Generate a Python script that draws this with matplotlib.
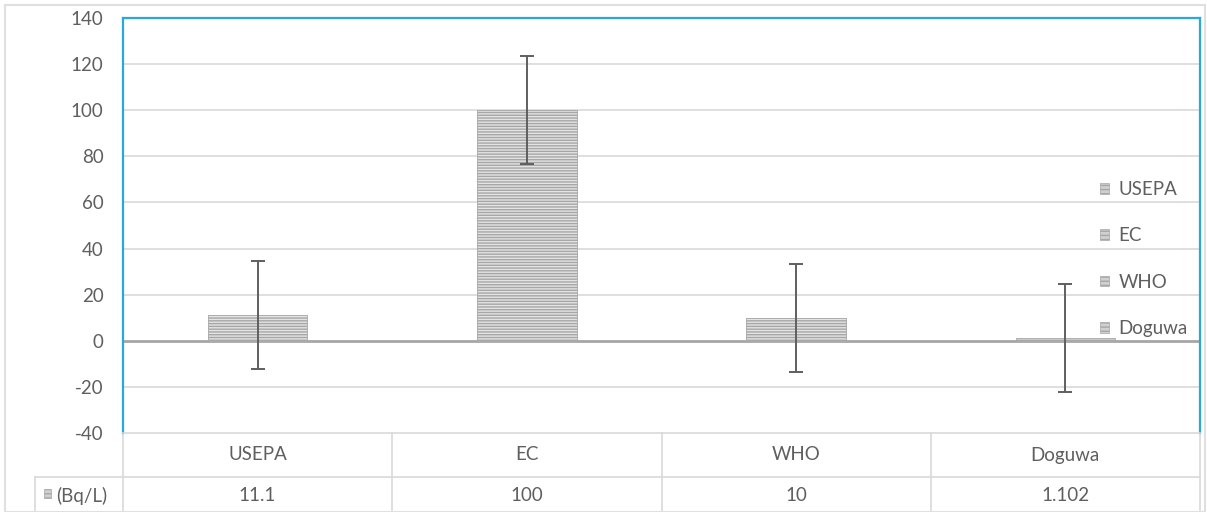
import matplotlib
matplotlib.use('agg')
import matplotlib.pyplot as plt
import matplotlib.transforms as mtransforms
from matplotlib.patches import Patch, Rectangle
import numpy as np

categories = ['USEPA', 'EC', 'WHO', 'Doguwa']
values = [11.1, 100, 10, 1.102]
value_labels = ['11.1', '100', '10', '1.102']
errors = [23.5, 23.5, 23.5, 23.5]
row_label = '(Bq/L)'
yticks = list(range(-40, 141, 20))

TXT = '#5f5f5f'
GRID = '#d9d9d9'
BLUE = '#29a8e0'

plt.rcParams['font.family'] = ['Lato', 'DejaVu Sans']
plt.rcParams['hatch.linewidth'] = 1.0

fig = plt.figure(figsize=(12.07, 5.12), dpi=100)
ax = fig.add_axes([123 / 1207, 79 / 512, 1077 / 1207, 415 / 512])

x = np.arange(len(categories))
ax.bar(x, values, width=0.37, color='#e4e4e4', edgecolor='#a6a6a6',
       hatch='------', linewidth=0.6, zorder=3)
ax.errorbar(x, values, yerr=errors, fmt='none', ecolor=TXT, elinewidth=1.4,
            capsize=5, capthick=1.4, zorder=4)

ax.set_xlim(-0.5, len(categories) - 0.5)
ax.set_ylim(-40, 140)
ax.set_yticks(yticks)
ax.set_yticklabels([str(t) for t in yticks], color=TXT, fontsize=13.5)
ax.tick_params(axis='y', length=0, pad=14)
ax.set_xticks([])
for t in yticks:
    if t == 0:
        ax.axhline(0, color='#a6a6a6', lw=2, zorder=2)
    elif t not in (-40, 140):
        ax.axhline(t, color=GRID, lw=1.2, zorder=1)

for s in ['left', 'top', 'right']:
    ax.spines[s].set_color(BLUE)
    ax.spines[s].set_linewidth(1.6)
ax.spines['bottom'].set_color(GRID)
ax.spines['bottom'].set_linewidth(1.2)

# legend on the right
handles = [Patch(facecolor='#d0d0d0', edgecolor='#a6a6a6', hatch='----', lw=0.5)
           for _ in categories]
leg = ax.legend(handles, categories, loc='upper left', bbox_to_anchor=(0.9, 0.625),
                frameon=False, handlelength=0.5, handleheight=0.5, handletextpad=0.5,
                labelspacing=1.56, fontsize=13.5, borderaxespad=0)
for t in leg.get_texts():
    t.set_color(TXT)

# data table under the axis
tr = mtransforms.blended_transform_factory(ax.transData, ax.transAxes)
row1, row2, row3 = 0.0, -44 / 415, -77 / 415
lab_left = -0.5 - 88 / 1077 * len(categories)
for i, (c, v) in enumerate(zip(categories, value_labels)):
    ax.text(i, (row1 + row2) / 2, c, transform=tr, ha='center', va='center',
            color=TXT, fontsize=13.5, clip_on=False)
    ax.text(i, (row2 + row3) / 2 - 0.005, v, transform=tr, ha='center', va='center',
            color=TXT, fontsize=13.5, clip_on=False)
for b in np.arange(len(categories) + 1) - 0.5:
    ax.plot([b, b], [row1, row3 - 0.01], transform=tr, color=GRID, lw=1.2, clip_on=False)
ax.plot([lab_left, len(categories) - 0.5], [row2, row2], transform=tr, color=GRID,
        lw=1.2, clip_on=False)
ax.plot([lab_left, lab_left], [row2, row3 - 0.01], transform=tr, color=GRID, lw=1.2,
        clip_on=False)
ax.add_patch(Rectangle((lab_left + 0.035, (row2 + row3) / 2 - 0.01), 0.025, 0.02,
                       transform=tr, facecolor='#d0d0d0', edgecolor='#a6a6a6',
                       hatch='----', lw=0.5, clip_on=False))
ax.text(lab_left + 0.08, (row2 + row3) / 2 - 0.005, row_label, transform=tr,
        ha='left', va='center', color=TXT, fontsize=13.5, clip_on=False)

fig.patches.append(Rectangle((5 / 1207, 0), 1 - 7 / 1207, 1 - 5 / 512, transform=fig.transFigure,
                             fill=False, edgecolor='#e0e0e0', lw=1.5))

fig.savefig('out.png', dpi=100)
